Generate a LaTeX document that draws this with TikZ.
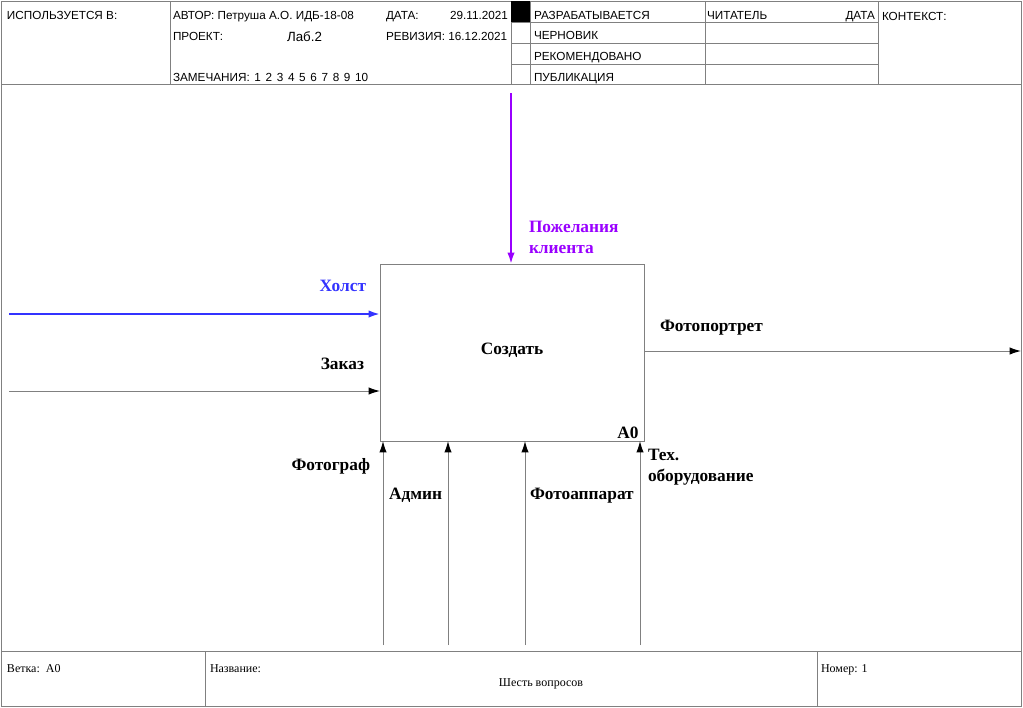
\documentclass[tikz,border=0pt]{standalone}
\usepackage{fontspec}
\setmainfont{Liberation Serif}
\setsansfont{Liberation Sans}
\usetikzlibrary{arrows.meta, positioning}

\definecolor{holstblue}{RGB}{51,51,255}
\definecolor{wishpurple}{RGB}{153,0,255}
\definecolor{linegray}{RGB}{128,128,128}

\begin{document}
\begin{tikzpicture}[x = 0.75pt, y = -0.75pt, % pixel grid, y going down
                line width = 0.75pt % line style
            ]

            \tikzstyle{every node}=[inner sep = 0pt, outer sep = 0pt]
            \tikzstyle{frame}=[draw = linegray, line width = 0.75pt]
            \tikzstyle{head}=[font = \sffamily\fontsize{8.8}{10}\selectfont,
            anchor = base west]
            \tikzstyle{foot}=[font = \fontsize{9}{10}\selectfont, anchor = base
            west]
            \tikzstyle{lbl}=[font = \bfseries\fontsize{13}{15.75}\selectfont,
            align = left]
            \tikzstyle{arc}=[draw = linegray, line width = 0.75pt,
            -{Latex[length = 8.5pt, width = 5.5pt, color = black]}]
            \tikzstyle{thickarc}=[line width = 1.5pt, -{Latex[length = 8.5pt,
            width = 5.5pt]}]

            \useasboundingbox (0,0) rectangle (1023,707);

            % frame, header and footer
            \draw[frame] (1,1) rectangle (1021,706);
            \draw[frame] (1,84) -- (1021,84); \draw[frame] (1,651) --
            (1021,651);
            \foreach \x in {170, 511, 530, 705, 878} \draw[frame] (\x,1) --
            (\x,84);
            \foreach \y in {22, 43, 64} \draw[frame] (511,\y) -- (878,\y);
            \fill[black] (511,1) rectangle (530,22);
            \draw[frame] (205,651) -- (205,706); \draw[frame] (817,651) --
            (817,706);

            \node[head] (usedin) at (7,19) {ИСПОЛЬЗУЕТСЯ В:};
            \node[head] (author) at (173,19) {АВТОР: Петруша А.О. ИДБ-18-08};
            \node[head] (date) at (386,19) {ДАТА:};
            \node[head, anchor = base east] (datev) at (508,19) {29.11.2021};
            \node[head] (project) at (173,40) {ПРОЕКТ:};
            \node[head, font = \sffamily\fontsize{10}{11}\selectfont] (projv)
            at (287,41) {Лаб.2};
            \node[head] (revision) at (386,40) {РЕВИЗИЯ: 16.12.2021};
            \node[head] (notes) at (173,81) {\spaceskip=3.5pt ЗАМЕЧАНИЯ:\ 1 2 3
            4 5 6 7 8 9 10};
            \node[head] (wip) at (534,19) {РАЗРАБАТЫВАЕТСЯ};
            \node[head] (draft) at (534,39) {ЧЕРНОВИК};
            \node[head] (recomm) at (534,60) {РЕКОМЕНДОВАНО};
            \node[head] (publ) at (534,81) {ПУБЛИКАЦИЯ};
            \node[head] (reader) at (707,19) {ЧИТАТЕЛЬ};
            \node[head, anchor = base east] (rdate) at (875,19) {ДАТА};
            \node[head] (context) at (882,20) {КОНТЕКСТ:};

            \node[foot] (branch) at (7,672) {Ветка:\ \ A0};
            \node[foot] (title) at (210,672) {Название:};
            \node[foot, anchor = base] (titlev) at (541,686) {Шесть вопросов};
            \node[foot] (number) at (821,672) {Номер: 1};

            % function box
            \node[draw = linegray, minimum width = 198pt, minimum height =
            132.75pt] (A0) at (512,352.5) {};
            \node[lbl] (make) at (512,350) {Создать};
            \node[lbl] (a0) at (628,433) {A0};

            % free ends of the arrows
            \coordinate (holst) at (9,314); \coordinate (order) at (9,391);
            \coordinate (wish) at (511,93); \coordinate (photo) at (1021,351);
            \coordinate (m1) at (383,645); \coordinate (m2) at (448,645);
            \coordinate (m3) at (525,645); \coordinate (m4) at (640,645);

            \draw[thickarc, holstblue] (holst) -- (holst -| A0.west);
            \draw[arc] (order) -- (order -| A0.west);
            \draw[thickarc, wishpurple] (wish) -- (wish |- A0.north);
            \draw[arc] (A0.east |- photo) -- (photo);
            \foreach \m in {m1, m2, m3, m4} \draw[arc] (\m) -- (\m |- A0.south);

            % arrow labels
            \node[lbl, text = holstblue, anchor = east] (lholst) at (366,286)
            {Холст};
            \node[lbl, anchor = east] (lorder) at (364,364) {Заказ};
            \node[lbl, text = wishpurple, anchor = west] (lwish) at (529,237)
            {Пожелания\\клиента};
            \node[lbl, anchor = west] (lphoto) at (660,328) {Фотопортрет};
            \node[lbl, anchor = east] (lm1) at (370,466) {Фотограф};
            \node[lbl, anchor = west] (lm2) at (389,495) {Админ};
            \node[lbl, anchor = west] (lm3) at (530,496) {Фотоаппарат};
            \node[lbl, anchor = west] (lm4) at (648,467) {Тех.\\оборудование};
\end{tikzpicture}
\end{document}
